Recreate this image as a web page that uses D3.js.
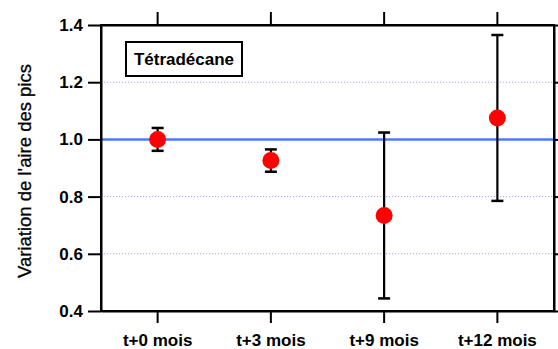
<!DOCTYPE html>
<html><head><meta charset="utf-8">
<script src="https://cdn.jsdelivr.net/npm/d3@7"></script>
<style>
html,body{margin:0;padding:0;background:#fff;}
svg{display:block;font-family:Arial,"Liberation Sans",Helvetica,sans-serif;}
</style></head>
<body><svg id="c" width="558" height="349"></svg>
<script>
const categories = ["t+0 mois","t+3 mois","t+9 mois","t+12 mois"];
const values = [1.0, 0.926, 0.734, 1.075];
const errors = [0.04, 0.039, 0.29, 0.29];
const yTicks = [0.4, 0.6, 0.8, 1.0, 1.2, 1.4];
const gridValues = [0.6, 0.8, 1.2];
const refValue = 1.0;
const legendLabel = "Tétradécane";
const yTitle = "Variation de l'aire des pics";

const svg = d3.select("#c");
const L = 101, R = 554, T = 25, B = 311;
const x = d3.scaleBand().domain(categories).range([L, R]).padding(0);
const y = d3.scaleLinear().domain([0.4, 1.4]).range([B, T]);
const cx = d => x(d) + x.bandwidth() / 2;

// grid
svg.append("g").selectAll("line").data(gridValues).join("line")
  .attr("x1", L).attr("x2", R).attr("y1", d => y(d)).attr("y2", d => y(d))
  .attr("stroke", "#a6a6ff").attr("stroke-width", 1).attr("stroke-dasharray", "1.2,1.8");

// reference line
svg.append("line").attr("x1", L).attr("x2", R).attr("y1", y(refValue)).attr("y2", y(refValue))
  .attr("stroke", "#4a7bff").attr("stroke-width", 2.5);

// axes
function style(g){ g.select(".domain").attr("stroke","#000").attr("stroke-width",2);
  g.selectAll(".tick line").attr("stroke","#000").attr("stroke-width",2);
  g.selectAll("text").attr("fill","#000").attr("font-size",17).attr("font-weight","bold")
   .attr("font-family","Arial, 'Liberation Sans', sans-serif"); }

svg.append("g").attr("transform", `translate(${L},0)`)
  .call(d3.axisLeft(y).tickValues(yTicks).tickFormat(d3.format(".1f")).tickSize(13).tickPadding(5).tickSizeOuter(0))
  .call(style);
svg.append("g").attr("transform", `translate(${R},0)`)
  .call(d3.axisRight(y).tickValues(yTicks).tickFormat("").tickSize(6).tickSizeOuter(0))
  .call(style);
svg.append("g").attr("transform", `translate(0,${T})`)
  .call(d3.axisTop(x).tickFormat("").tickSize(13).tickSizeOuter(0))
  .call(style);
svg.append("g").attr("transform", `translate(0,${B})`)
  .call(d3.axisBottom(x).tickSize(12).tickPadding(11).tickSizeOuter(0))
  .call(style);

// frame
svg.append("rect").attr("x", L).attr("y", T).attr("width", R - L).attr("height", B - T)
  .attr("fill", "none").attr("stroke", "#000").attr("stroke-width", 2);

// error bars
const eb = svg.append("g").attr("stroke", "#000").attr("stroke-width", 2.2);
categories.forEach((c, i) => {
  const v = values[i], e = errors[i];
  eb.append("line").attr("x1", cx(c)).attr("x2", cx(c)).attr("y1", y(v + e)).attr("y2", y(v - e));
  [v + e, v - e].forEach(w => eb.append("line").attr("x1", cx(c) - 6).attr("x2", cx(c) + 6)
    .attr("y1", y(w)).attr("y2", y(w)).attr("stroke-width", 2.5));
});

// points
svg.append("g").selectAll("circle").data(categories).join("circle")
  .attr("cx", d => cx(d)).attr("cy", (d, i) => y(values[i])).attr("r", 8.5).attr("fill", "#ff0000");

// legend box
svg.append("rect").attr("x", 126).attr("y", 42).attr("width", 116).attr("height", 34)
  .attr("fill", "#fff").attr("stroke", "#000").attr("stroke-width", 2);
svg.append("text").attr("x", 184).attr("y", 65).attr("text-anchor", "middle")
  .attr("font-size", 17).attr("font-weight", "bold").text(legendLabel);

// y title
svg.append("text").attr("transform", "translate(31,171) rotate(-90)").attr("text-anchor", "middle")
  .attr("font-size", 18.5).attr("fill", "#000").attr("stroke", "#000").attr("stroke-width", 0.3)
  .text(yTitle);
</script></body></html>
